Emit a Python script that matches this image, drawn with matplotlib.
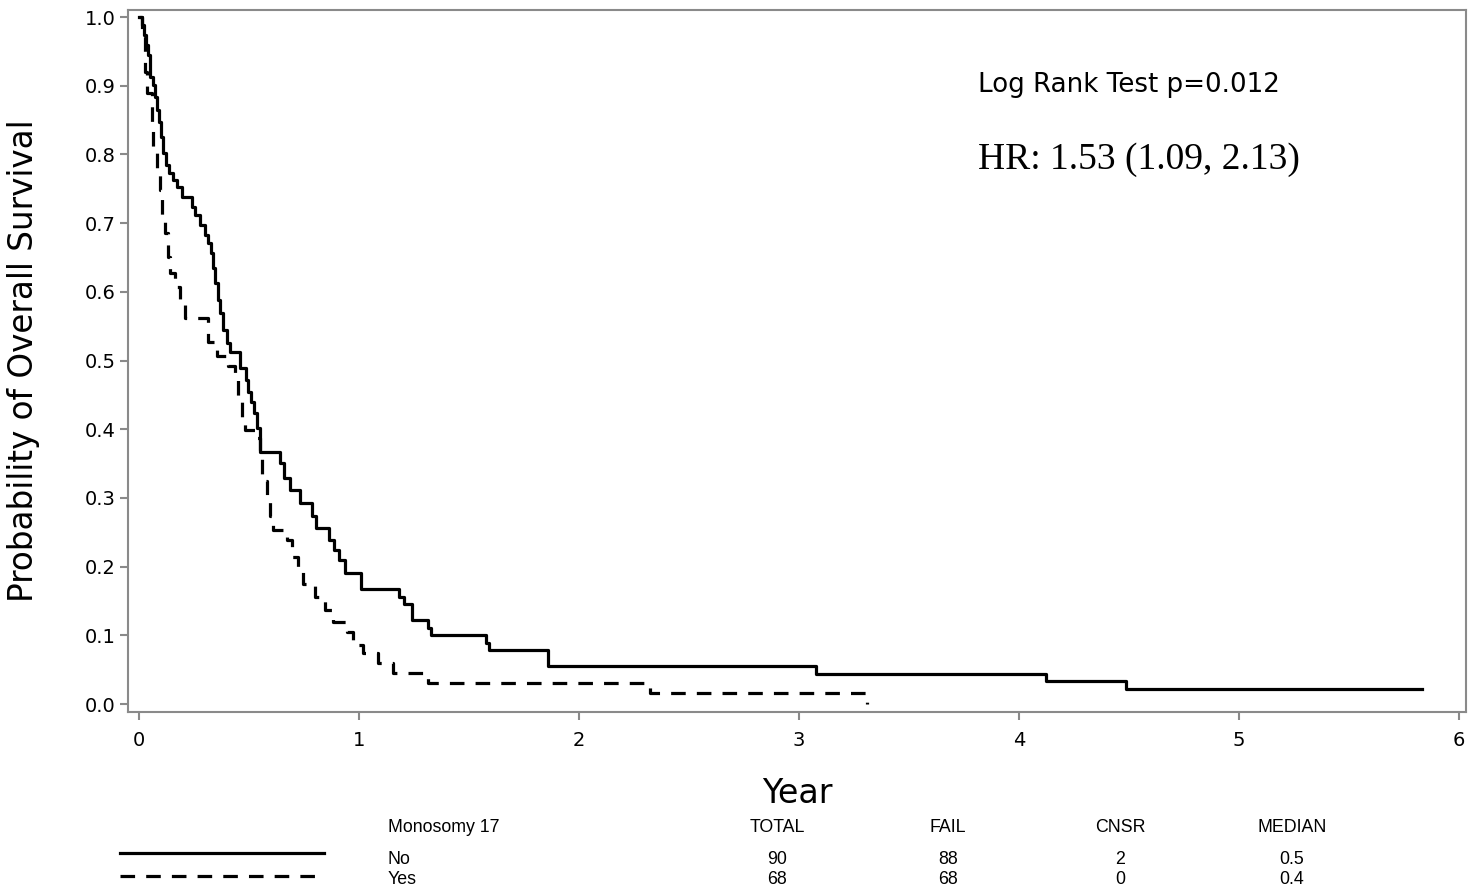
import matplotlib
matplotlib.use("Agg")
import matplotlib.pyplot as plt
from matplotlib.lines import Line2D
from matplotlib import font_manager

# ---------------- data ----------------
# Monosomy 17 = No  (time of each drop in years, survival after the drop)
no_time = [0.0, 0.014, 0.023, 0.032, 0.041, 0.050, 0.064, 0.073, 0.082, 0.091,
           0.100, 0.109, 0.123, 0.136, 0.155, 0.173, 0.195, 0.241, 0.255, 0.277,
           0.300, 0.314, 0.327, 0.336, 0.345, 0.359, 0.368, 0.382, 0.400, 0.414,
           0.459, 0.486, 0.495, 0.509, 0.523, 0.536, 0.550, 0.641, 0.659, 0.686,
           0.732, 0.786, 0.805, 0.864, 0.886, 0.909, 0.936, 1.009, 1.182, 1.205,
           1.241, 1.314, 1.327, 1.577, 1.591, 1.859, 3.077, 4.123, 4.486, 5.832]
no_surv = [1.000, 0.988, 0.974, 0.959, 0.945, 0.913, 0.901, 0.884, 0.865, 0.847,
           0.825, 0.802, 0.785, 0.773, 0.763, 0.753, 0.738, 0.723, 0.712, 0.697,
           0.683, 0.671, 0.656, 0.635, 0.613, 0.588, 0.569, 0.544, 0.525, 0.512,
           0.489, 0.472, 0.454, 0.440, 0.424, 0.402, 0.367, 0.351, 0.329, 0.312,
           0.293, 0.274, 0.256, 0.239, 0.224, 0.210, 0.191, 0.167, 0.156, 0.146,
           0.122, 0.111, 0.100, 0.089, 0.078, 0.056, 0.044, 0.033, 0.022, 0.022]

# Monosomy 17 = Yes
yes_time = [0.0, 0.014, 0.027, 0.036, 0.059, 0.064, 0.082, 0.095, 0.105, 0.118,
            0.132, 0.141, 0.164, 0.186, 0.209, 0.314, 0.355, 0.405, 0.436, 0.450,
            0.468, 0.482, 0.536, 0.550, 0.559, 0.582, 0.595, 0.609, 0.673, 0.695,
            0.723, 0.745, 0.800, 0.845, 0.882, 0.945, 0.973, 1.018, 1.086, 1.155,
            1.314, 2.323, 3.309]
yes_surv = [1.000, 0.974, 0.920, 0.889, 0.838, 0.811, 0.777, 0.748, 0.709, 0.686,
            0.651, 0.627, 0.607, 0.588, 0.562, 0.527, 0.507, 0.492, 0.472, 0.442,
            0.416, 0.399, 0.387, 0.358, 0.325, 0.297, 0.274, 0.253, 0.239, 0.214,
            0.195, 0.175, 0.156, 0.137, 0.119, 0.105, 0.086, 0.074, 0.060, 0.045,
            0.031, 0.016, 0.000]

x_ticks = [0, 1, 2, 3, 4, 5, 6]
y_ticks = [0.0, 0.1, 0.2, 0.3, 0.4, 0.5, 0.6, 0.7, 0.8, 0.9, 1.0]

table_header = ["Monosomy 17", "TOTAL", "FAIL", "CNSR", "MEDIAN"]
groups = ["No", "Yes"]
totals = [90, 68]
fails = [88, 68]
cnsr = [2, 0]
medians = ["0.5", "0.4"]

logrank_text = "Log Rank Test p=0.012"
hr_text = "HR: 1.53 (1.09, 2.13)"

# ---------------- styling ----------------
plt.rcParams["lines.scale_dashes"] = False
W, H = 1482, 894
fig = plt.figure(figsize=(W / 100, H / 100), dpi=100)

left, right, top, bottom = 128, 1466, 10, 712
ax = fig.add_axes([left / W, 1 - bottom / H, (right - left) / W, (bottom - top) / H])

sans = "DejaVu Sans"
names = {f.name for f in font_manager.fontManager.ttflist}
if "Liberation Sans Narrow" in names:
    narrow, fs_tab = "Liberation Sans Narrow", 14
else:
    narrow, fs_tab = "Liberation Sans", 12.8

ax.step(no_time, no_surv, where="post", color="black", lw=2.3)
ax.step(yes_time, yes_surv, where="post", color="black", lw=2.3, dashes=[10.5, 8])

ax.set_xlim(-0.05, 6.032)
ax.set_ylim(-0.0116, 1.0102)
ax.set_xticks(x_ticks)
ax.set_xticklabels([str(v) for v in x_ticks])
ax.set_yticks(y_ticks)
ax.set_yticklabels([f"{v:.1f}" for v in y_ticks])

for sp in ax.spines.values():
    sp.set_color("#8a8a8a")
    sp.set_linewidth(1.5)
ax.tick_params(axis="both", direction="out", length=6, width=1.5, color="#8a8a8a",
               labelsize=14, labelcolor="black")
ax.tick_params(axis="x", pad=8)
ax.tick_params(axis="y", pad=3)
for lab in ax.get_xticklabels() + ax.get_yticklabels():
    lab.set_family(sans)

ax.set_xlabel("Year", fontsize=24, family=sans, labelpad=19)
ax.set_ylabel("Probability of Overall Survival", fontsize=23.5, family=sans, labelpad=32)

ax.text(978 / W, 1 - 85 / H, logrank_text, transform=fig.transFigure,
        fontsize=18.8, family=sans, ha="left", va="center")
ax.text(978 / W, 1 - 160 / H, hr_text, transform=fig.transFigure,
        fontsize=27, family="Liberation Serif", ha="left", va="center")

# ---------------- table below ----------------
col_x = [388, 777, 948, 1120, 1292]
row_y = [828, 859, 880]
fig.text(col_x[0] / W, 1 - row_y[0] / H, table_header[0], family=narrow,
         fontsize=fs_tab, ha="left", va="center")
for cx, hd in zip(col_x[1:], table_header[1:]):
    fig.text(cx / W, 1 - row_y[0] / H, hd, family=narrow, fontsize=fs_tab,
             ha="center", va="center")
for i, g in enumerate(groups):
    ry = 1 - row_y[i + 1] / H
    fig.text(col_x[0] / W, ry, g, family=narrow, fontsize=fs_tab, ha="left", va="center")
    for cx, val in zip(col_x[1:], [totals[i], fails[i], cnsr[i], medians[i]]):
        fig.text(cx / W, ry, str(val), family=narrow, fontsize=fs_tab,
                 ha="center", va="center")

fig.add_artist(Line2D([120 / W, 324 / W], [1 - 853 / H, 1 - 853 / H],
                      color="black", lw=2.3, transform=fig.transFigure))
fig.add_artist(Line2D([120 / W, 324 / W], [1 - 876 / H, 1 - 876 / H],
                      color="black", lw=2.3, dashes=[10.5, 8], transform=fig.transFigure))

fig.savefig("out.png", dpi=100)
